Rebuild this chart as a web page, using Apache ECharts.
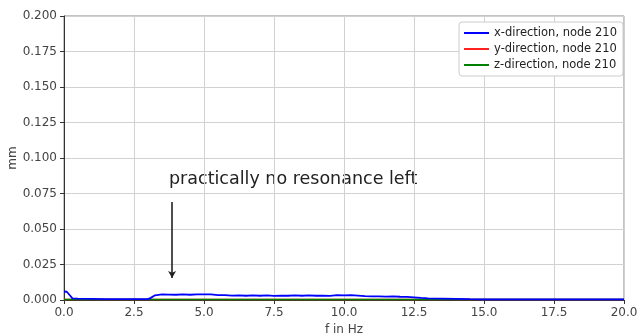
<!DOCTYPE html>
<html><head><meta charset="utf-8">
<script src="https://cdn.jsdelivr.net/npm/echarts@6/dist/echarts.min.js"></script>
<style>html,body{margin:0;padding:0;background:#fff}#c{width:638px;height:336px}</style>
</head><body><div id="c"></div>
<script>
const freqs = [0, 0.1, 0.2, 0.3, 0.5, 1.0, 1.5, 2.0, 2.5, 3.0, 3.1, 3.25, 3.5, 3.75, 4.0, 4.25, 4.5, 4.75, 5.0, 5.25, 5.5, 5.75, 6.0, 6.25, 6.5, 6.75, 7.0, 7.25, 7.5, 7.75, 8.0, 8.25, 8.5, 8.75, 9.0, 9.25, 9.5, 9.75, 10.0, 10.25, 10.5, 10.75, 11.0, 11.25, 11.5, 11.75, 12.0, 12.25, 12.5, 12.75, 13.0, 13.5, 14.0, 14.5, 15.0, 16.0, 17.0, 18.0, 19.0, 20.0];
const xDir = [0.0060, 0.0058, 0.0035, 0.0012, 0.0010, 0.0008, 0.0006, 0.0006, 0.0006, 0.0006, 0.0015, 0.0033, 0.0039, 0.0038, 0.0037, 0.0039, 0.0037, 0.0040, 0.0040, 0.0039, 0.0035, 0.0034, 0.0031, 0.0033, 0.0030, 0.0032, 0.0030, 0.0032, 0.0029, 0.0031, 0.0030, 0.0032, 0.0030, 0.0032, 0.0030, 0.0031, 0.0029, 0.0035, 0.0033, 0.0035, 0.0031, 0.0027, 0.0025, 0.0026, 0.0024, 0.0025, 0.0023, 0.0022, 0.0019, 0.0015, 0.0012, 0.0010, 0.0008, 0.0006, 0.0005, 0.0005, 0.0005, 0.0005, 0.0005, 0.0005];
const yDir = [0.0003, 0.0003, 0.0003, 0.0003, 0.0003, 0.0003, 0.0003, 0.0003, 0.0003, 0.0003, 0.0003, 0.0003, 0.0003, 0.0003, 0.0003, 0.0003, 0.0003, 0.0003, 0.0003, 0.0003, 0.0003, 0.0003, 0.0003, 0.0003, 0.0003, 0.0003, 0.0003, 0.0003, 0.0003, 0.0003, 0.0003, 0.0003, 0.0003, 0.0003, 0.0003, 0.0003, 0.0003, 0.0003, 0.0003, 0.0003, 0.0003, 0.0003, 0.0003, 0.0003, 0.0003, 0.0003, 0.0003, 0.0003, 0.0003, 0.0003, 0.0003, 0.0003, 0.0003, 0.0003, 0.0003, 0.0003, 0.0003, 0.0003, 0.0003, 0.0003];
const zDir = [0.0004, 0.0004, 0.0004, 0.0004, 0.0004, 0.0004, 0.0004, 0.0004, 0.0004, 0.0004, 0.0004, 0.0004, 0.0004, 0.0004, 0.0004, 0.0004, 0.0004, 0.0004, 0.0004, 0.0004, 0.0004, 0.0004, 0.0004, 0.0004, 0.0004, 0.0004, 0.0004, 0.0004, 0.0004, 0.0004, 0.0004, 0.0004, 0.0004, 0.0004, 0.0004, 0.0004, 0.0004, 0.0004, 0.0004, 0.0004, 0.0004, 0.0004, 0.0004, 0.0004, 0.0004, 0.0004, 0.0004, 0.0004, 0.0004, 0.0004, 0.0004, 0.0004, 0.0004, 0.0004, 0.0004, 0.0004, 0.0004, 0.0004, 0.0004, 0.0004];
const seriesNames = ['x-direction, node 210', 'y-direction, node 210', 'z-direction, node 210'];
const annotationText = 'practically no resonance left';
const arrowX = 3.86, arrowTop = 0.069, arrowBottom = 0.0155;

const pair = arr => freqs.map((f, i) => [f, arr[i]]);
const font = 'DejaVu Sans';
const chart = echarts.init(document.getElementById('c'), null, {renderer: 'canvas'});
chart.setOption({
  animation: false,
  backgroundColor: '#fff',
  grid: {left: 64, right: 14, top: 16, bottom: 36, show: true, borderColor: '#888', borderWidth: 1,
         containLabel: false, outerBoundsMode: 'none'},
  xAxis: {
    type: 'value', min: 0, max: 20, interval: 2.5,
    name: 'f in Hz', nameLocation: 'middle', nameGap: 24, nameMoveOverlap: false,
    nameTextStyle: {fontFamily: font, fontSize: 12, color: '#444'},
    axisLine: {show: true, onZero: false, lineStyle: {color: '#333', width: 1}},
    axisTick: {show: true, length: 4, lineStyle: {color: '#333'}},
    axisLabel: {fontFamily: font, fontSize: 12, color: '#444', margin: 7, formatter: v => v.toFixed(1)},
    splitLine: {show: true, lineStyle: {color: '#d2d2d2', width: 1}}
  },
  yAxis: {
    type: 'value', min: 0, max: 0.2, interval: 0.025,
    name: 'mm', nameLocation: 'middle', nameGap: 45, nameRotate: 90, nameMoveOverlap: false,
    nameTextStyle: {fontFamily: font, fontSize: 12, color: '#444'},
    axisLine: {show: true, lineStyle: {color: '#333', width: 1}},
    axisTick: {show: true, length: 4, lineStyle: {color: '#333'}},
    axisLabel: {fontFamily: font, fontSize: 12, color: '#444', margin: 7, formatter: v => v.toFixed(3)},
    splitLine: {show: true, lineStyle: {color: '#d2d2d2', width: 1}}
  },
  legend: {
    orient: 'vertical', right: 15, top: 22,
    data: seriesNames,
    icon: 'rect', itemWidth: 25, itemHeight: 2, itemGap: 4,
    textStyle: {fontFamily: font, fontSize: 11.5, color: '#222'},
    backgroundColor: '#fff', borderColor: '#ccc', borderWidth: 1, borderRadius: 3,
    padding: [5, 6, 5, 5]
  },
  series: [
    {name: seriesNames[0], type: 'line', data: pair(xDir), showSymbol: false, color: '#0000ff', lineStyle: {width: 1.8}, z: 3,
     markLine: {silent: true, symbol: ['none', 'arrow'], symbolSize: [6, 7], label: {show: false},
       lineStyle: {color: '#222', width: 1.6, type: 'solid'},
       data: [[{coord: [arrowX, arrowTop]}, {coord: [arrowX, arrowBottom]}]]}},
    {name: seriesNames[1], type: 'line', data: pair(yDir), showSymbol: false, color: '#ff2020', lineStyle: {width: 1.5}, z: 2},
    {name: seriesNames[2], type: 'line', data: pair(zDir), showSymbol: false, color: '#008000', lineStyle: {width: 1.5}, z: 2}
  ],
  graphic: [{
    type: 'text', left: 169, top: 170,
    style: {text: annotationText, fontFamily: font, fontSize: 17.5, fill: '#222'}
  }]
});
</script></body></html>
